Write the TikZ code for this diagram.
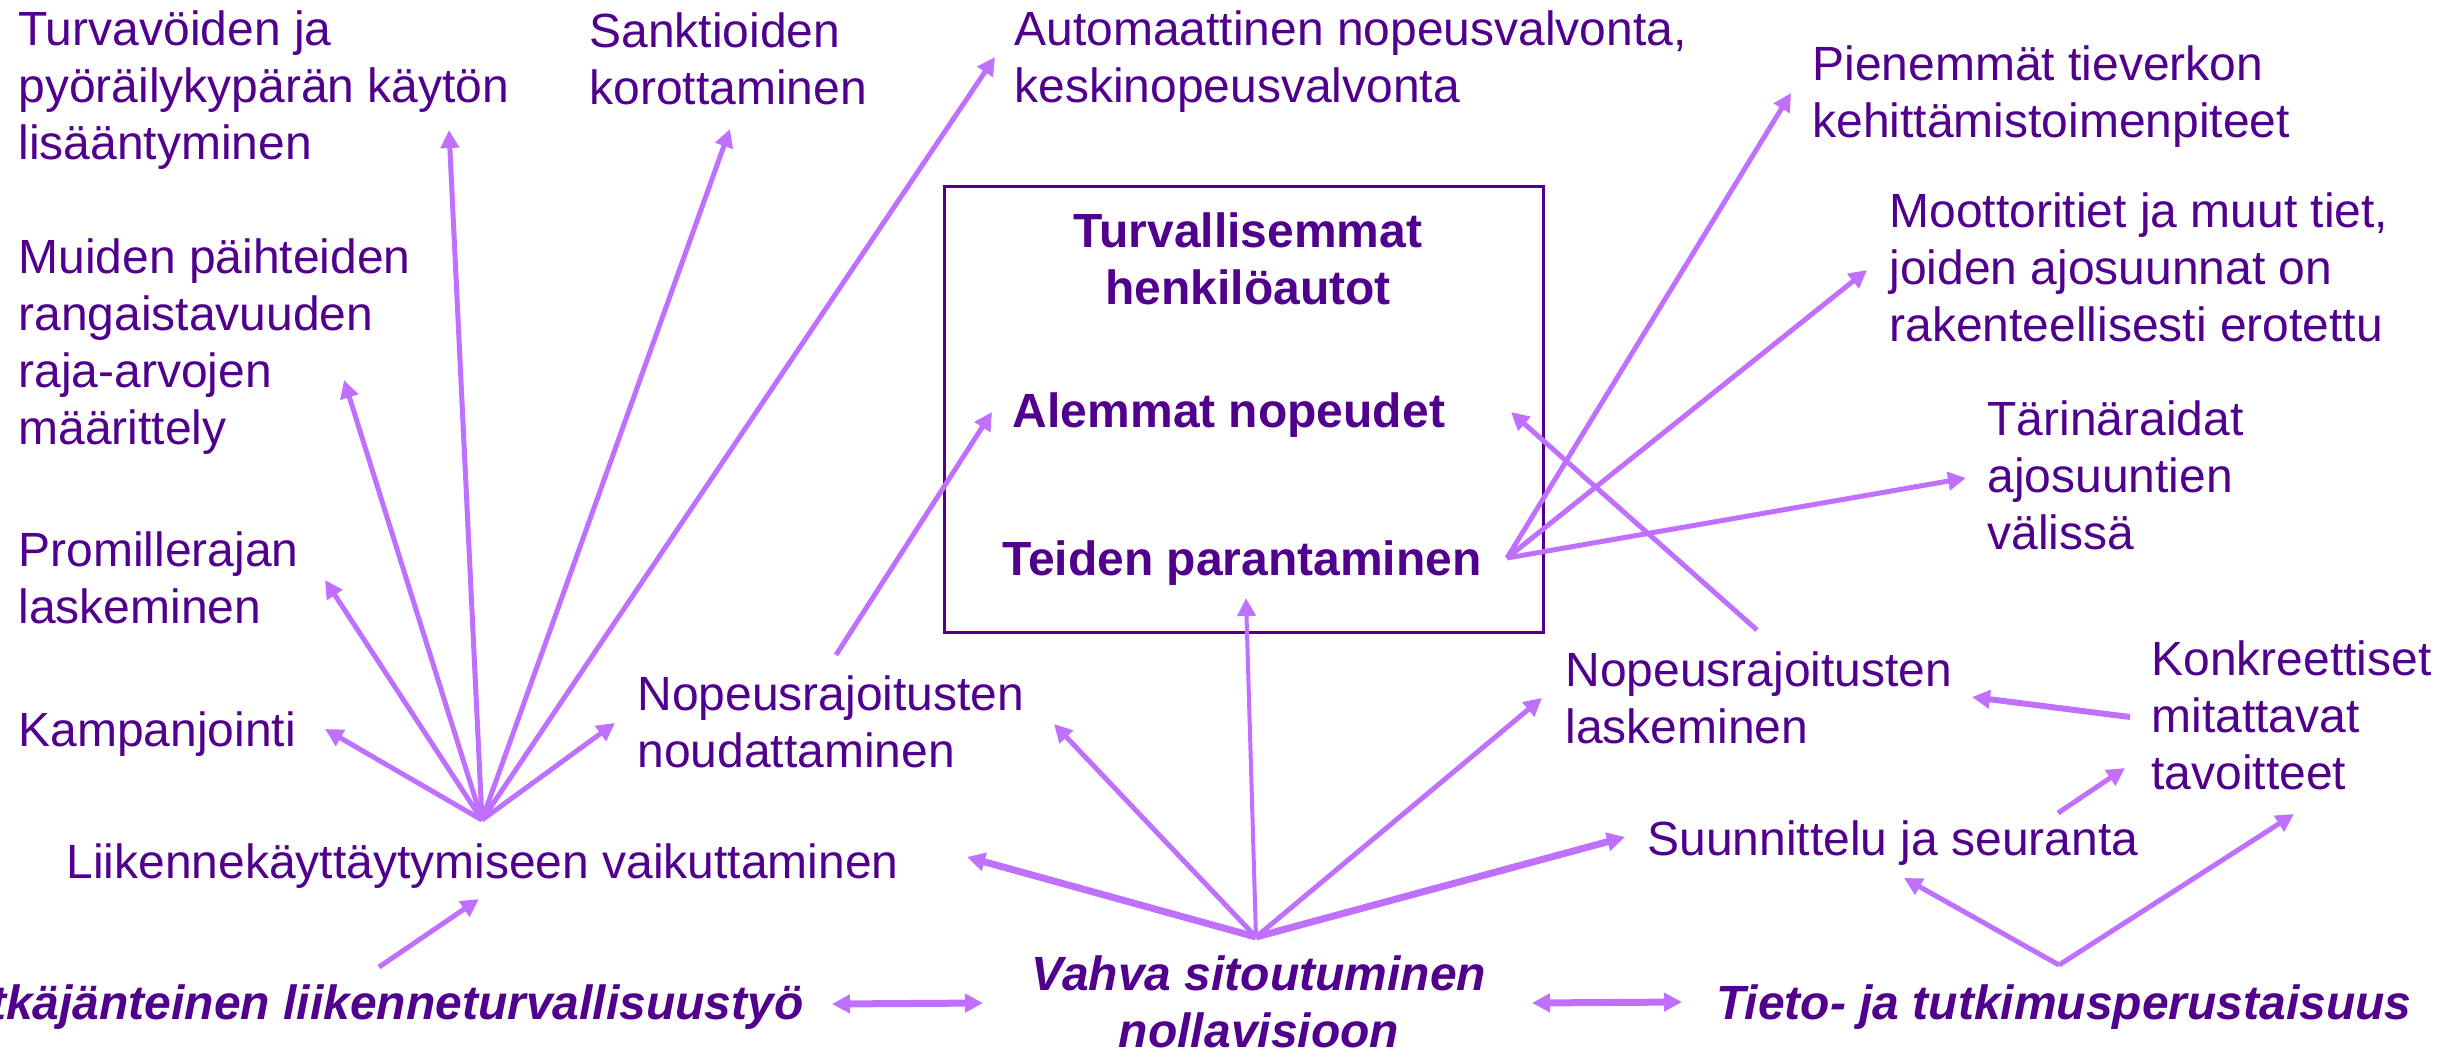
\documentclass[tikz,border=0pt]{standalone}
\usepackage{fontspec}
\setmainfont{Liberation Sans}
\usetikzlibrary{arrows.meta}
\definecolor{txt}{RGB}{80,0,140}
\definecolor{arr}{RGB}{192,112,255}
\newcommand{\mlL}[1]{\begin{tabular}[t]{@{}l@{}}#1\end{tabular}}
\newcommand{\mlC}[1]{\begin{tabular}[t]{@{}c@{}}#1\end{tabular}}
\begin{document}
\begin{tikzpicture}[x=0.5pt,y=-0.5pt,
  lbl/.style={inner sep=0pt, anchor=base west, text=txt, font=\fontsize{24}{28.5}\selectfont},
  blbl/.style={inner sep=0pt, anchor=base, text=txt, font=\fontsize{24}{28.5}\selectfont\bfseries},
  ilbl/.style={inner sep=0pt, text=txt, font=\fontsize{24}{28.5}\selectfont\bfseries\itshape},
  link/.style={draw=arr, line width=2.5pt, -{Triangle[length=9pt,width=9pt]}},
  heavylink/.style={link, line width=3.5pt},
  dbl/.style={draw=arr, line width=3.5pt, {Triangle[length=9pt,width=9pt]}-{Triangle[length=9pt,width=9pt]}},
  frame/.style={draw=txt, line width=1.5pt}
]
\useasboundingbox (0,0) rectangle (2448,1051);

% box
\draw[frame] (944,186) rectangle (1543,632);

% labels
\node[lbl] (turva) at (18,45) {\mlL{Turvavöiden ja\\pyöräilykypärän käytön\\lisääntyminen}};
\node[lbl] (sankt) at (589,47) {\mlL{Sanktioiden\\korottaminen}};
\node[lbl] (autom) at (1014,45) {\mlL{Automaattinen nopeusvalvonta,\\keskinopeusvalvonta}};
\node[lbl] (pien) at (1812,80) {\mlL{Pienemmät tieverkon\\kehittämistoimenpiteet}};
\node[lbl] (moot) at (1889,227) {\mlL{Moottoritiet ja muut tiet,\\joiden ajosuunnat on\\rakenteellisesti erotettu}};
\node[lbl] (tari) at (1987,435) {\mlL{Tärinäraidat\\ajosuuntien\\välissä}};
\node[lbl] (muid) at (18,273) {\mlL{Muiden päihteiden\\rangaistavuuden\\raja-arvojen\\määrittely}};
\node[lbl] (prom) at (18,566) {\mlL{Promillerajan\\laskeminen}};
\node[lbl] (kamp) at (18,746) {Kampanjointi};
\node[lbl] (noud) at (637,710) {\mlL{Nopeusrajoitusten\\noudattaminen}};
\node[lbl] (lask) at (1565,686) {\mlL{Nopeusrajoitusten\\laskeminen}};
\node[lbl] (konk) at (2151,675) {\mlL{Konkreettiset\\mitattavat\\tavoitteet}};
\node[lbl] (suun) at (1647,855) {Suunnittelu ja seuranta};
\node[lbl] (liik) at (66,878) {Liikennekäyttäytymiseen vaikuttaminen};

\node[blbl] (turvall) at (1248,247) {\mlC{Turvallisemmat\\henkilöautot}};
\node[blbl] (alem) at (1229,427) {Alemmat nopeudet};
\node[blbl] (teid) at (1242,575) {Teiden parantaminen};

\node[ilbl, anchor=base east] (pitka) at (804,1019) {Pitkäjänteinen liikenneturvallisuustyö};
\node[ilbl, anchor=base] (vahva) at (1259,990) {\mlC{Vahva sitoutuminen\\nollavisioon}};
\node[ilbl, anchor=base west] (tieto) at (1716,1019) {Tieto- ja tutkimusperustaisuus};

% connector points
\coordinate (hubA) at (482,820);
\coordinate (hubB) at (1256,937);
\coordinate (hubC) at (1507,558);
\coordinate (hubD) at (2059,965);
\coordinate (aTurva) at (449,130);
\coordinate (aSankt) at (730,129);
\coordinate (aAutom) at (995,57);
\coordinate (aMuid) at (344,380);
\coordinate (aProm) at (325,580);
\coordinate (aKamp) at (325,729);
\coordinate (aNoud) at (615,723);
\coordinate (pitkaTop) at (379,967);
\coordinate (aLiik) at (479,899);
\coordinate (bLiik) at (967,857);
\coordinate (bNoud) at (1054,724);
\coordinate (bTeid) at (1246,598);
\coordinate (bLask) at (1542,698);
\coordinate (bSuun) at (1625,837);
\coordinate (noudTop) at (836,655);
\coordinate (alemL) at (992,412);
\coordinate (laskTop) at (1757,630);
\coordinate (alemR) at (1511,412);
\coordinate (cPien) at (1791,93);
\coordinate (cMoot) at (1867,270);
\coordinate (cTari) at (1966,478);
\coordinate (konkL) at (2130,717);
\coordinate (laskR) at (1972,697);
\coordinate (suunR) at (2058,813);
\coordinate (konkB) at (2125,768);
\coordinate (dSuun) at (1904,878);
\coordinate (dKonk) at (2294,814);
\coordinate (pitkaR) at (832,1004);
\coordinate (vahvaL) at (983,1003);
\coordinate (vahvaR) at (1532,1003);
\coordinate (tietoL) at (1682,1002);

% hub A
\foreach \t in {aTurva,aSankt,aAutom,aMuid,aProm,aKamp,aNoud}
  \draw[link] (hubA) -- (\t);
\draw[link] (pitkaTop) -- (aLiik);
% hub B
\draw[heavylink] (hubB) -- (bLiik);
\draw[link] (hubB) -- (bNoud);
\draw[link, line width=2pt] (hubB) -- (bTeid);
\draw[link] (hubB) -- (bLask);
\draw[heavylink] (hubB) -- (bSuun);
\draw[link] (noudTop) -- (alemL);
\draw[link] (laskTop) -- (alemR);
% hub C
\foreach \t in {cPien,cMoot,cTari}
  \draw[link] (hubC) -- (\t);
\draw[link, line width=3pt] (konkL) -- (laskR);
\draw[link] (suunR) -- (konkB);
% hub D
\draw[link] (hubD) -- (dSuun);
\draw[link] (hubD) -- (dKonk);
% double arrows
\draw[dbl] (pitkaR) -- (vahvaL);
\draw[dbl] (vahvaR) -- (tietoL);
\end{tikzpicture}
\end{document}
